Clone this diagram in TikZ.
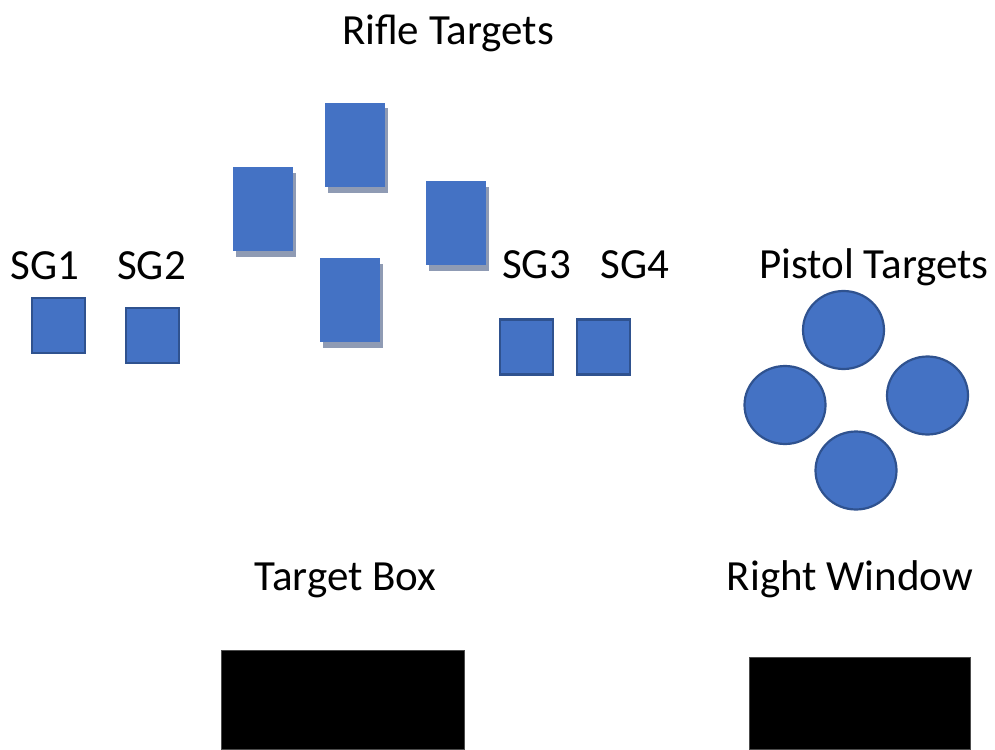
\documentclass[tikz,border=0pt]{standalone}
\usepackage{fontspec}
\setmainfont{Carlito}
\usetikzlibrary{shapes.geometric,shadows}
\definecolor{tblue}{HTML}{4472C4}
\definecolor{tedge}{HTML}{2F528F}
\definecolor{tshadow}{RGB}{143,155,180}
\tikzset{
  lbl/.style={anchor=base,inner sep=0pt,font=\fontsize{43}{50}\selectfont},
  rifle/.style={rectangle,fill=tblue,inner sep=0pt,minimum width=60pt,minimum height=84pt,
    general shadow={fill=tshadow,shadow xshift=2.5pt,shadow yshift=-5.5pt}},
  sgbox/.style={rectangle,fill=tblue,draw=tedge,line width=2.2pt,inner sep=0pt,minimum width=53pt,minimum height=55pt},
  pistol/.style={ellipse,fill=tblue,draw=tedge,line width=2.2pt,inner sep=0pt,minimum width=81pt,minimum height=78pt},
  blackbox/.style={rectangle,fill=black,draw=black!70,line width=0.5pt,inner sep=0pt}
}
\begin{document}
\begin{tikzpicture}[x=1pt,y=-1pt]
\useasboundingbox (0,0) rectangle (995,749);
% labels
\node[lbl] (rifleT) at (448,45) {Rifle Targets};
\node[lbl] (sg1T) at (45,279) {SG1};
\node[lbl] (sg2T) at (151.5,279) {SG2};
\node[lbl] (sg3T) at (536.5,278) {SG3};
\node[lbl] (sg4T) at (635,278) {SG4};
\node[lbl] (pistolT) at (874,278) {Pistol Targets};
\node[lbl] (boxT) at (345.5,590) {Target Box};
\node[lbl] (winT) at (850,590) {Right Window};
% rifle targets
\node[rifle] (r1) at (263,209) {};
\node[rifle] (r2) at (355,145) {};
\node[rifle] (r3) at (456,223) {};
\node[rifle] (r4) at (350,300) {};
% SG squares
\node[sgbox] (sg1) at (58.5,325.5) {};
\node[sgbox] (sg2) at (152.5,335.5) {};
\node[sgbox] (sg3) at (526.5,347) {};
\node[sgbox] (sg4) at (603.5,347) {};
% pistol targets
\node[pistol] (p1) at (843.5,330) {};
\node[pistol] (p2) at (785,405) {};
\node[pistol] (p3) at (927.5,395.5) {};
\node[pistol] (p4) at (856,470.5) {};
% black boxes
\node[blackbox,minimum width=243pt,minimum height=99pt] (tbox) at (342.5,699.5) {};
\node[blackbox,minimum width=221pt,minimum height=92pt] (rwin) at (859.5,703) {};
\end{tikzpicture}
\end{document}
